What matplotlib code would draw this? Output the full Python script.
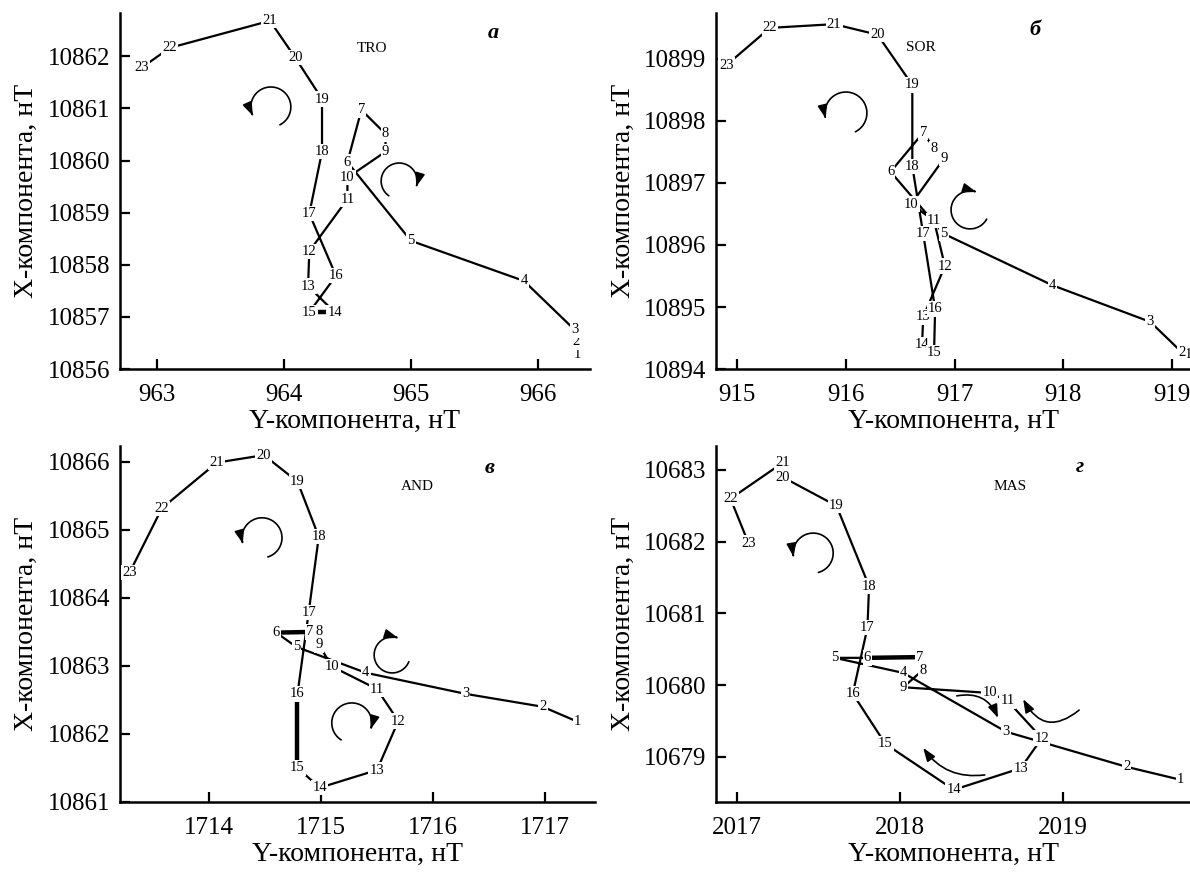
import numpy as np
import matplotlib.pyplot as plt
from matplotlib.patches import FancyArrowPatch
from matplotlib.path import Path
from matplotlib.transforms import ScaledTranslation

plt.rcParams['font.family'] = ['Liberation Serif', 'DejaVu Serif']

# hours 1..23, horizontal = Y component, vertical = X component (nT)
hours = list(range(1, 24))

tro_Y = [966.31, 966.30, 966.29, 965.89, 965.00, 964.50, 964.61, 964.80, 964.80, 964.50,
         964.50, 964.20, 964.19, 964.40, 964.20, 964.41, 964.20, 964.30, 964.30, 964.09,
         963.89, 963.10, 962.88]
tro_X = [10856.27, 10856.52, 10856.75, 10857.69, 10858.46, 10859.97, 10860.97, 10860.51,
         10860.17, 10859.67, 10859.26, 10858.26, 10857.59, 10857.09, 10857.09, 10857.79,
         10858.98, 10860.17, 10861.18, 10861.97, 10862.68, 10862.16, 10861.78]

sor_Y = [919.15, 919.09, 918.80, 917.90, 916.90, 916.41, 916.71, 916.81, 916.90, 916.60,
         916.81, 916.91, 916.71, 916.70, 916.81, 916.82, 916.71, 916.61, 916.61, 916.29,
         915.89, 915.30, 914.90]
sor_X = [10894.23, 10894.27, 10894.76, 10895.35, 10896.18, 10897.18, 10897.81, 10897.56,
         10897.39, 10896.66, 10896.39, 10895.66, 10894.84, 10894.39, 10894.26, 10894.97,
         10896.18, 10897.27, 10898.58, 10899.39, 10899.56, 10899.50, 10898.90]

and_Y = [1717.29, 1716.98, 1716.29, 1715.40, 1714.78, 1714.60, 1714.90, 1714.98, 1714.98,
         1715.10, 1715.50, 1715.69, 1715.50, 1714.99, 1714.79, 1714.79, 1714.89, 1714.98,
         1714.79, 1714.49, 1714.07, 1713.58, 1713.29]
and_X = [10862.18, 10862.40, 10862.59, 10862.90, 10863.28, 10863.49, 10863.50, 10863.50,
         10863.31, 10862.99, 10862.66, 10862.19, 10861.47, 10861.21, 10861.50, 10862.59,
         10863.79, 10864.90, 10865.71, 10866.10, 10865.99, 10865.32, 10864.37]

mas_Y = [2019.72, 2019.39, 2018.65, 2018.02, 2017.60, 2017.80, 2018.12, 2018.14, 2018.02,
         2018.55, 2018.66, 2018.87, 2018.74, 2018.33, 2017.91, 2017.71, 2017.80, 2017.81,
         2017.61, 2017.28, 2017.28, 2016.96, 2017.07]
mas_X = [10678.68, 10678.86, 10679.35, 10680.17, 10680.38, 10680.38, 10680.39, 10680.21,
         10679.97, 10679.89, 10679.78, 10679.26, 10678.84, 10678.54, 10679.18, 10679.88,
         10680.80, 10681.38, 10682.50, 10682.90, 10683.10, 10682.60, 10681.98]

fig = plt.figure(figsize=(11.9, 8.72), dpi=100)


def curl(ax, cx, cy, r, a0, a1):
    # circular arrow, centre in axes fraction, radius in pixels
    t = np.radians(np.linspace(a0, a1, 80))
    verts = np.column_stack([r * np.cos(t), r * np.sin(t)]) / 100.0
    tr = fig.dpi_scale_trans + ScaledTranslation(cx, cy, ax.transAxes)
    arr = FancyArrowPatch(path=Path(verts), arrowstyle='-|>,head_length=0.5,head_width=0.18',
                          mutation_scale=16, transform=tr, color='k', lw=1.2)
    ax.add_artist(arr)


def bent(ax, start, end, rad):
    ax.annotate('', xy=end, xytext=start, xycoords='axes fraction',
                arrowprops=dict(arrowstyle='-|>,head_length=0.5,head_width=0.18',
                                connectionstyle='arc3,rad=%s' % rad, lw=1.2, color='k',
                                mutation_scale=16, shrinkA=0, shrinkB=0))


def panel(rect, Y, X, station, letter, xlim, ylim, xticks, yticks, st_pos, let_pos, thick):
    ax = fig.add_axes(rect)
    ax.plot(Y, X, color='k', lw=1.6, zorder=2)
    # segments that look heavier in the original (drawn twice)
    for i in thick:
        ax.plot(Y[i - 1:i + 1], X[i - 1:i + 1], color='k', lw=3.2, zorder=2)
    for h, y, x in zip(hours, Y, X):
        ax.text(y, x, str(h), fontsize=10.5, ha='center', va='center', zorder=3,
                bbox=dict(boxstyle='square,pad=0.08', fc='white', ec='none'))
    ax.set_xlim(*xlim)
    ax.set_ylim(*ylim)
    ax.set_xticks(xticks)
    ax.set_yticks(yticks)
    ax.ticklabel_format(useOffset=False)
    for s in ['top', 'right']:
        ax.spines[s].set_visible(False)
    for s in ['left', 'bottom']:
        ax.spines[s].set_linewidth(1.8)
    ax.tick_params(direction='in', length=7, width=1.6, labelsize=18)
    ax.tick_params(axis='x', pad=11)
    ax.tick_params(axis='y', pad=7)
    ax.set_xlabel('Y-компонента, нТ', fontsize=20, labelpad=2)
    ax.set_ylabel('X-компонента, нТ', fontsize=20, labelpad=6)
    ax.text(st_pos[0], st_pos[1], station, transform=ax.transAxes, fontsize=11,
            ha='center', va='center')
    ax.text(let_pos[0], let_pos[1], letter, transform=ax.transAxes, fontsize=16,
            style='italic', weight='bold', ha='center', va='center')
    return ax


ax_a = panel([0.1008, 0.5768, 0.3950, 0.4083], tro_Y, tro_X, 'TRO', 'а',
             (962.709, 966.41), (10856, 10862.83), [963, 964, 965, 966],
             range(10856, 10863), (0.536, 0.899), (0.794, 0.944), [14])
curl(ax_a, 0.321, 0.736, 20, -63, 206)
curl(ax_a, 0.594, 0.528, 18, 235, -18)

ax_b = panel([0.6017, 0.5768, 0.3983, 0.4083], sor_Y, sor_X, 'SOR', 'б',
             (914.804, 919.165), (10894, 10899.74), [915, 916, 917, 918, 919],
             range(10894, 10900), (0.432, 0.902), (0.673, 0.952), [])
curl(ax_b, 0.274, 0.719, 21, -63, 195)
curl(ax_b, 0.536, 0.447, 19, -29, -289)

ax_c = panel([0.1008, 0.0803, 0.3992, 0.4083], and_Y, and_X, 'AND', 'в',
             (1713.205, 1717.446), (10861.0, 10866.235), [1714, 1715, 1716, 1717],
             range(10861, 10867), (0.627, 0.885), (0.779, 0.938), [6, 15])
curl(ax_c, 0.299, 0.742, 20, -73, 197)
curl(ax_c, 0.573, 0.413, 18, -22, -289)
curl(ax_c, 0.488, 0.222, 20, 238, -18)

ax_d = panel([0.6017, 0.0803, 0.3983, 0.4083], mas_Y, mas_X, 'MAS', 'г',
             (2016.871, 2019.779), (10678.37, 10683.335), [2017, 2018, 2019],
             range(10679, 10684), (0.620, 0.885), (0.768, 0.941), [6])
curl(ax_d, 0.205, 0.699, 20, -75, 191)
bent(ax_d, (0.508, 0.298), (0.595, 0.236), -0.4)
bent(ax_d, (0.766, 0.258), (0.648, 0.289), -0.6)
bent(ax_d, (0.567, 0.076), (0.437, 0.152), -0.3)

fig.savefig('out.png', dpi=100)
